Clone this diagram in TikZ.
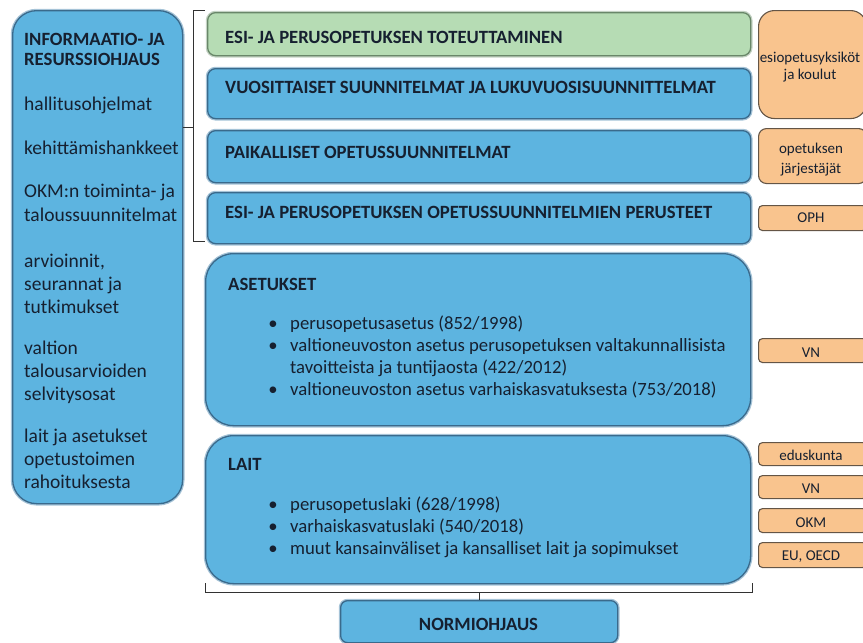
\documentclass[tikz,border=0pt]{standalone}
\usepackage{fontspec}
\setmainfont{Carlito}
\definecolor{bfill}{RGB}{93,180,224}
\definecolor{bdark}{RGB}{58,106,140}
\definecolor{blight}{RGB}{165,195,215}
\definecolor{gfill}{RGB}{182,220,180}
\definecolor{gdark}{RGB}{105,135,105}
\definecolor{glight}{RGB}{195,210,195}
\definecolor{ofill}{RGB}{249,196,142}
\definecolor{odark}{RGB}{100,85,70}
\definecolor{txt}{RGB}{22,32,48}
\definecolor{brk}{RGB}{50,50,50}
\tikzset{
  bluebox/.style={draw=bdark, fill=bfill, line width=1.3pt, preaction={draw=blight, line width=3.8pt}, inner sep=0pt, anchor=north west},
  greenbox/.style={draw=gdark, fill=gfill, line width=1.3pt, preaction={draw=glight, line width=3.8pt}, inner sep=0pt, anchor=north west},
  orangebox/.style={draw=odark, fill=ofill, line width=1.1pt, inner sep=0pt, anchor=north west},
  head/.style={font=\fontsize{18.7}{22}\selectfont\bfseries, text=txt, anchor=base west, inner sep=0pt},
  lefthead/.style={font=\fontsize{18.7}{22}\selectfont\bfseries, text=txt, anchor=base west, inner sep=0pt},
  lefttxt/.style={font=\fontsize{19.5}{23}\selectfont, text=txt, anchor=base west, inner sep=0pt},
  bultxt/.style={font=\fontsize{18.7}{22}\selectfont, text=txt, anchor=base west, inner sep=0pt},
  otxt/.style={font=\fontsize{15}{18}\selectfont, text=txt, anchor=base, inner sep=0pt},
  bracketline/.style={draw=brk, line width=1pt},
}
\begin{document}
\begin{tikzpicture}[x=1pt,y=-1pt]
\useasboundingbox (0,0) rectangle (863,643);
% left box
\node[bluebox, rounded corners=24pt, minimum width=170pt, minimum height=493pt] (info) at (12,10) {};
\foreach \t/\yy [count=\i] in {{INFORMAATIO- JA}/45, RESURSSIOHJAUS/65}
  \node[lefthead] (lh\i) at (24,\yy) {\t};
\foreach \t/\yy [count=\i] in {hallitusohjelmat/110, kehittämishankkeet/154, {OKM:n toiminta- ja}/197, taloussuunnitelmat/221, {arvioinnit,}/267, {seurannat ja}/290, tutkimukset/313, valtion/354, talousarvioiden/377, selvitysosat/400, {lait ja asetukset}/442, opetustoimen/465, rahoituksesta/488}
  \node[lefttxt] (lt\i) at (24,\yy) {\t};
% upper boxes
\node[greenbox, rounded corners=8pt, minimum width=543pt, minimum height=43pt] (b1) at (207,12) {};
\node[bluebox, rounded corners=8pt, minimum width=543pt, minimum height=50pt] (b2) at (207,68) {};
\node[bluebox, rounded corners=8pt, minimum width=543pt, minimum height=52pt] (b3) at (207,130) {};
\node[bluebox, rounded corners=8pt, minimum width=543pt, minimum height=51pt] (b4) at (207,192) {};
\node[head] (h1) at (225,43) {ESI- JA PERUSOPETUKSEN TOTEUTTAMINEN};
\node[head] (h2) at (225,93) {VUOSITTAISET SUUNNITELMAT JA LUKUVUOSISUUNNITTELMAT};
\node[head] (h3) at (225,158) {PAIKALLISET OPETUSSUUNNITELMAT};
\node[head] (h4) at (225,218) {ESI- JA PERUSOPETUKSEN OPETUSSUUNNITELMIEN PERUSTEET};
% asetukset
\node[bluebox, rounded corners=28pt, minimum width=545pt, minimum height=172pt] (aset) at (205,253) {};
\node[head] (ah) at (228,290) {ASETUKSET};
\foreach \yy in {329,351,395} \node[bultxt, anchor=base] at (273,\yy) {•};
\node[bultxt] (a1) at (290,329) {perusopetusasetus (852/1998)};
\node[bultxt] (a2) at (290,351) {valtioneuvoston asetus perusopetuksen valtakunnallisista};
\node[bultxt] (a3) at (290,373) {tavoitteista ja tuntijaosta (422/2012)};
\node[bultxt] (a4) at (290,395) {valtioneuvoston asetus varhaiskasvatuksesta (753/2018)};
% lait
\node[bluebox, rounded corners=28pt, minimum width=545pt, minimum height=148pt] (lait) at (205,435) {};
\node[head] (lh) at (228,470) {LAIT};
\foreach \yy in {510,532,554} \node[bultxt, anchor=base] at (273,\yy) {•};
\node[bultxt] (l1) at (290,510) {perusopetuslaki (628/1998)};
\node[bultxt] (l2) at (290,532) {varhaiskasvatuslaki (540/2018)};
\node[bultxt] (l3) at (290,554) {muut kansainväliset ja kansalliset lait ja sopimukset};
% normiohjaus
\node[bluebox, rounded corners=7pt, minimum width=277pt, minimum height=42pt] (norm) at (340,600) {};
\node[head, anchor=base] (nh) at (478.5,630) {NORMIOHJAUS};
% orange boxes
\node[orangebox, rounded corners=16pt, minimum width=108pt, minimum height=108pt] (o1) at (758,10) {};
\node[otxt] (o1a) at (810,62) {esiopetusyksiköt};
\node[otxt] (o1b) at (810,79) {ja koulut};
\node[orangebox, rounded corners=8pt, minimum width=108pt, minimum height=55pt] (o2) at (758,128) {};
\node[otxt] (o2a) at (811,153) {opetuksen};
\node[otxt] (o2b) at (811,173) {järjestäjät};
\node[orangebox, rounded corners=4pt, minimum width=108pt, minimum height=25pt] (o3) at (758,205) {};
\node[otxt] (o3a) at (811,222) {OPH};
\node[orangebox, rounded corners=4pt, minimum width=108pt, minimum height=24pt] (o4) at (758,338) {};
\node[otxt] (o4a) at (811,357) {VN};
\node[orangebox, rounded corners=4pt, minimum width=108pt, minimum height=23pt] (o5) at (758,442) {};
\node[otxt] (o5a) at (811,460) {eduskunta};
\node[orangebox, rounded corners=4pt, minimum width=108pt, minimum height=23pt] (o6) at (758,475) {};
\node[otxt] (o6a) at (811,493) {VN};
\node[orangebox, rounded corners=4pt, minimum width=108pt, minimum height=24pt] (o7) at (758,508) {};
\node[otxt] (o7a) at (811,527) {OKM};
\node[orangebox, rounded corners=4pt, minimum width=108pt, minimum height=25pt] (o8) at (758,542) {};
\node[otxt] (o8a) at (811,560) {EU, OECD};
% brackets
\coordinate (tbt) at (205,10);
\coordinate (tbb) at (205,241);
\coordinate (tmid) at (193,127);
\draw[bracketline] (tbt) -| (tbb -| tmid) -- (tbb);
\draw[bracketline] (info.east |- tmid) -- (tmid);
\coordinate (bl) at (205,583);
\coordinate (br) at (752,583);
\coordinate (bbar) at (478.5,592);
\draw[bracketline] (bl) |- (br |- bbar) -- (br);
\draw[bracketline] (norm.north) -- (norm.north |- bbar);
\end{tikzpicture}
\end{document}
